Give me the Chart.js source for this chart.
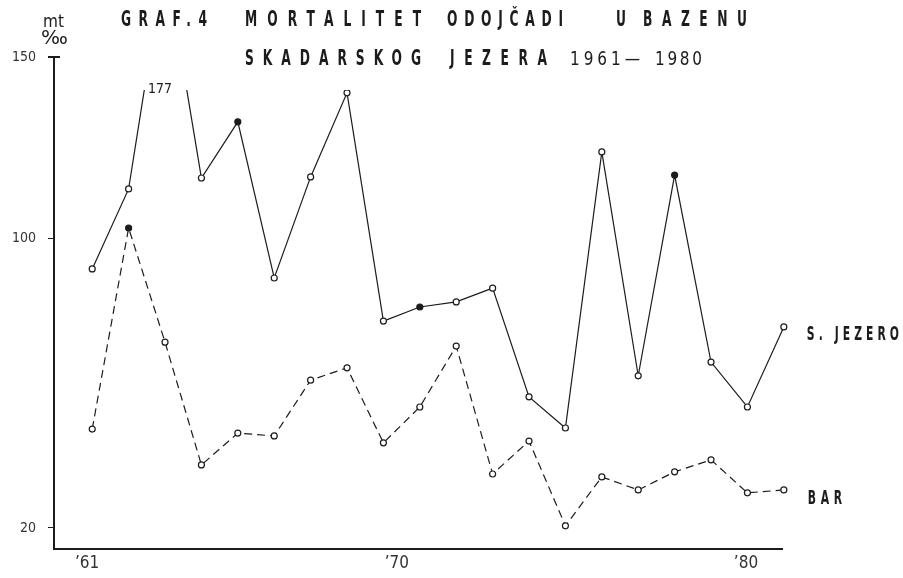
<!DOCTYPE html>
<html>
<head>
<meta charset="utf-8">
<script src="https://cdn.jsdelivr.net/npm/chart.js@4"></script>
<style>
  html, body { margin: 0; padding: 0; background: #fff; }
  #wrap { width: 903px; height: 578px; }
</style>
</head>
<body>
<div id="wrap"><canvas id="chart" width="903" height="578"></canvas></div>
<script>
// infant mortality (per mille), Skadar lake basin 1961-1980
const years = [1961, 1962, 1963, 1964, 1965, 1966, 1967, 1968, 1969, 1970,
               1971, 1972, 1973, 1974, 1975, 1976, 1977, 1978, 1979, 1980];
const jezero = [91.5, 113.6, 177, 116.6, 132.1, 89.0, 116.9, 140.1, 77.1, 81.0,
                82.4, 86.2, 56.2, 47.6, 123.8, 62.0, 117.4, 65.8, 53.4, 75.5];
const bar = [47.3, 102.8, 71.3, 37.4, 46.2, 45.4, 60.8, 64.2, 43.5, 53.4,
             70.2, 34.9, 44.0, 20.6, 34.1, 30.5, 35.5, 38.8, 29.7, 30.5];
const jezeroFilled = [1965, 1970, 1977];
const barFilled = [1962];

const yTicks = [20, 100, 150];
const xTickPos = [1960.86, 1969.37, 1978.96];
const xTickLabels = ["’61", "’70", "’80"];

const ink = "#1c1c1c";
const cond = "'DejaVu Sans Condensed', 'DejaVu Sans', sans-serif";

// draw text so it spans x0..x1, squeezed horizontally by sx
function spaced(ctx, text, x0, x1, y, sx) {
  ctx.save();
  ctx.translate(x0, y);
  ctx.scale(sx, 1);
  ctx.letterSpacing = "0px";
  const w = ctx.measureText(text).width;
  const n = [...text].length;
  const sp = n > 1 ? ((x1 - x0) / sx - w) / (n - 1) : 0;
  ctx.letterSpacing = sp + "px";
  ctx.fillText(text, 0, 0);
  ctx.restore();
}

const notes = {
  id: "notes",
  afterDraw(chart) {
    const { ctx, scales: { x, y } } = chart;
    ctx.save();
    ctx.fillStyle = ink;
    ctx.textAlign = "left";
    ctx.textBaseline = "alphabetic";

    ctx.font = "bold 22px " + cond;
    [["GRAF.4", 121, 207, 26], ["MORTALITET", 245, 421, 26], ["ODOJČADI", 447, 563, 26],
     ["U", 616, 626, 26], ["BAZENU", 643, 747, 26],
     ["SKADARSKOG", 245, 421, 65], ["JEZERA", 450, 547, 65]]
      .forEach(([t, a, b, yy]) => spaced(ctx, t, a, b, yy, 0.62));
    ctx.font = "20px " + cond;
    spaced(ctx, "1961—", 570, 640, 65, 0.85);
    spaced(ctx, "1980", 655, 702, 65, 0.85);

    // unit
    ctx.font = "17px " + cond;
    ctx.fillText("mt", 43, 27);
    ctx.font = "20px 'DejaVu Sans', sans-serif";
    ctx.fillText("‰", 41, 44);

    // cap on the top of the y axis
    ctx.strokeStyle = ink;
    ctx.lineWidth = 2;
    ctx.beginPath();
    ctx.moveTo(x.left - 6, y.top);
    ctx.lineTo(x.left + 6, y.top);
    ctx.stroke();

    // off-scale peak value
    ctx.font = "14px " + cond;
    ctx.textAlign = "center";
    const i = jezero.indexOf(177);
    ctx.fillText(String(jezero[i]), x.getPixelForValue(years[i]) - 5, 93);

    // series names at line ends
    ctx.textAlign = "left";
    ctx.font = "bold 20px " + cond;
    const last = years.length - 1;
    const xe = x.getPixelForValue(years[last]);
    spaced(ctx, "S. JEZERO", xe + 23, 899, y.getPixelForValue(jezero[last]) + 13, 0.6);
    spaced(ctx, "BAR", xe + 24, 842, y.getPixelForValue(bar[last]) + 14, 0.6);
    ctx.restore();
  }
};

const pts = (vals) => years.map((yr, i) => ({ x: yr, y: vals[i] }));
const common = {
  borderColor: ink,
  borderWidth: 1.2,
  tension: 0,
  pointRadius: 3,
  pointBorderWidth: 1.2,
  pointBorderColor: ink,
  clip: { left: false, right: false, bottom: false, top: -33 }
};

new Chart(document.getElementById("chart"), {
  type: "line",
  data: {
    datasets: [
      Object.assign({}, common, {
        label: "S. JEZERO",
        data: pts(jezero),
        pointBackgroundColor: (c) => jezeroFilled.includes(years[c.dataIndex]) ? ink : "#fff"
      }),
      Object.assign({}, common, {
        label: "BAR",
        data: pts(bar),
        borderDash: [8, 5],
        pointBackgroundColor: (c) => barFilled.includes(years[c.dataIndex]) ? ink : "#fff"
      })
    ]
  },
  options: {
    responsive: false,
    animation: false,
    layout: { padding: { left: 0, top: 57, right: 121, bottom: 0 } },
    plugins: { legend: { display: false }, tooltip: { enabled: false } },
    scales: {
      x: {
        type: "linear",
        min: 1959.95,
        max: 1979.95,
        afterBuildTicks: (s) => { s.ticks = xTickPos.map((v) => ({ value: v })); },
        afterFit: (s) => { s.height = 29; },
        ticks: {
          autoSkip: false,
          maxRotation: 0,
          padding: 4,
          color: "#333",
          font: { family: cond, size: 17 },
          callback: (v, i) => xTickLabels[i]
        },
        grid: { drawOnChartArea: false, drawTicks: false },
        border: { color: ink, width: 2 }
      },
      y: {
        min: 14.2,
        max: 150,
        afterBuildTicks: (s) => { s.ticks = yTicks.map((v) => ({ value: v })); },
        afterFit: (s) => { s.width = 54; },
        ticks: {
          padding: 12,
          color: "#333",
          font: { family: cond, size: 14 }
        },
        grid: { drawOnChartArea: false, tickLength: 6, color: ink },
        border: { color: ink, width: 2 }
      }
    }
  },
  plugins: [notes]
});
</script>
</body>
</html>
